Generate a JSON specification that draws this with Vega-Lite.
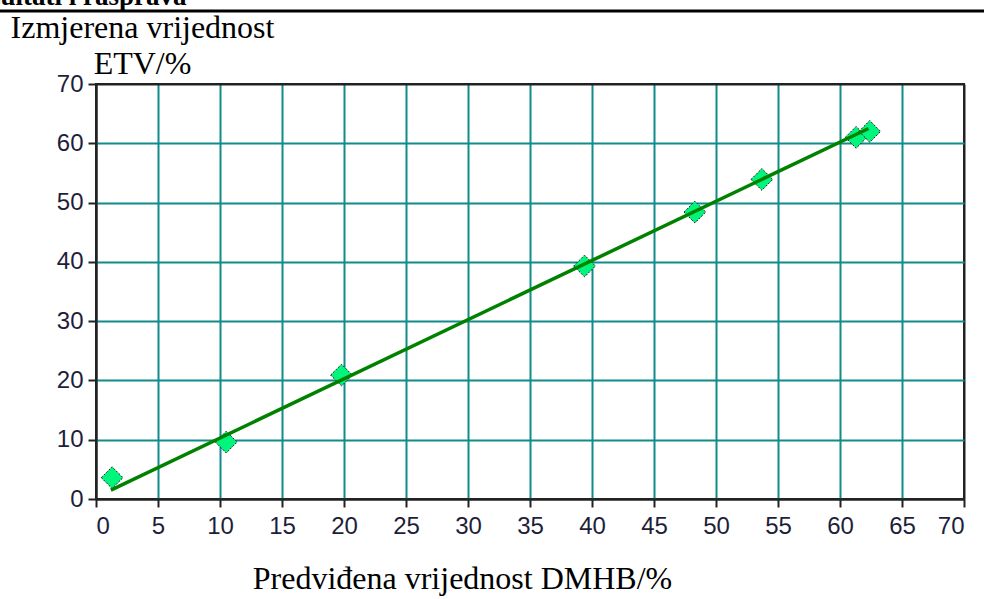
{
  "$schema": "https://vega.github.io/schema/vega-lite/v6.json",
  "width": 868,
  "height": 415,
  "autosize": {"type": "none"},
  "padding": {"left": 96, "top": 84, "right": 20, "bottom": 100},
  "background": "white",
  "config": {"view": {"stroke": "#222222", "strokeWidth": 2}},
  "layer": [
    {
      "data": {"values": [
        {"pred": 1.3, "meas": 3.6},
        {"pred": 10.5, "meas": 9.6},
        {"pred": 19.8, "meas": 20.9},
        {"pred": 39.4, "meas": 39.3},
        {"pred": 48.3, "meas": 48.4},
        {"pred": 53.7, "meas": 53.9},
        {"pred": 61.3, "meas": 61.0},
        {"pred": 62.4, "meas": 62.0}
      ]},
      "mark": {"type": "point", "shape": "diamond", "filled": true, "size": 470, "fill": "#00F57C", "fillOpacity": 1, "stroke": "#1a1a1a", "strokeWidth": 1, "strokeDash": [2, 1.5], "opacity": 1},
      "encoding": {
        "x": {
          "field": "pred", "type": "quantitative",
          "scale": {"domain": [0, 70], "nice": false, "zero": false},
          "axis": {
            "values": [0, 5, 10, 15, 20, 25, 30, 35, 40, 45, 50, 55, 60, 65, 70],
            "grid": true,
            "gridColor": {"condition": {"test": "datum.value === 70 || datum.value === 0", "value": "#222222"}, "value": "#118c8c"},
            "gridWidth": 2,
            "gridOpacity": 1,
            "domainColor": "#222222", "domainWidth": 2,
            "tickColor": "#222222", "tickWidth": 2, "tickSize": 8,
            "labelFont": "Liberation Sans", "labelFontSize": 24, "labelColor": "#1e1e3a", "labelPadding": 7,
            "title": "Predviđena vrijednost DMHB/%",
            "titleFont": "Liberation Serif", "titleFontSize": 32, "titleFontWeight": "normal", "titleColor": "#000000",
            "titleX": 366, "titleY": 89, "titleBaseline": "alphabetic", "titleAlign": "center", "titleAnchor": null
          }
        },
        "y": {
          "field": "meas", "type": "quantitative",
          "scale": {"domain": [0, 70], "nice": false, "zero": false},
          "axis": {
            "values": [0, 10, 20, 30, 40, 50, 60, 70],
            "grid": true,
            "gridColor": {"condition": {"test": "datum.value === 70 || datum.value === 0", "value": "#222222"}, "value": "#118c8c"},
            "gridWidth": 2,
            "gridOpacity": 1,
            "domainColor": "#222222", "domainWidth": 2,
            "tickColor": "#222222", "tickWidth": 2, "tickSize": 8,
            "labelFont": "Liberation Sans", "labelFontSize": 24, "labelColor": "#1e1e3a", "labelPadding": 5,
            "title": ["Izmjerena vrijednost", "ETV/%"],
            "titleFont": "Liberation Serif", "titleFontSize": 32, "titleFontWeight": "normal", "titleColor": "#000000",
            "titleAngle": 0, "titleAlign": "center", "titleX": 46, "titleY": -47, "titleBaseline": "alphabetic", "titleLineHeight": 36
          }
        }
      }
    },
    {
      "data": {"values": [
        {"pred": 1.2, "meas": 1.5},
        {"pred": 62.3, "meas": 62.5}
      ]},
      "mark": {"type": "line", "color": "#008200", "strokeWidth": 3.5},
      "encoding": {
        "x": {"field": "pred", "type": "quantitative"},
        "y": {"field": "meas", "type": "quantitative"}
      }
    },
    {
      "data": {"values": [{}]},
      "mark": {"type": "rule", "color": "#000000", "strokeWidth": 3, "clip": false},
      "encoding": {
        "x": {"datum": -7.8, "type": "quantitative"},
        "x2": {"datum": 71.7},
        "y": {"datum": 82.3, "type": "quantitative"}
      }
    },
    {
      "data": {"values": [{}]},
      "mark": {"type": "text", "font": "Liberation Serif", "fontSize": 27, "fontWeight": "bold", "align": "left", "baseline": "alphabetic", "color": "#000000", "clip": false},
      "encoding": {
        "x": {"datum": -11.2, "type": "quantitative"},
        "y": {"datum": 83.4, "type": "quantitative"},
        "text": {"value": "Rezultati i rasprava"}
      }
    }
  ]
}
